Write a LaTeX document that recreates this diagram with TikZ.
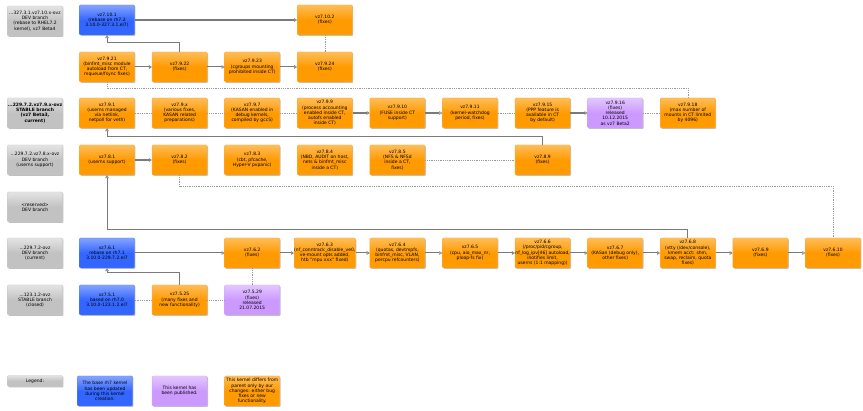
\documentclass[tikz,border=0pt]{standalone}
\usepackage{fontspec}
\setmainfont{DejaVu Sans}
\usetikzlibrary{arrows.meta,shadows}
\definecolor{cOr}{HTML}{FF9A00}
\definecolor{cBl}{HTML}{3366FF}
\definecolor{cPu}{HTML}{CC99FF}
\definecolor{cGr}{HTML}{C2C2C2}
\definecolor{cLn}{HTML}{7A7A7A}
\definecolor{cDt}{HTML}{9A9A9A}
\tikzset{
  kbox/.style={rectangle, rounded corners=1pt, minimum width=55pt, minimum height=30pt,
    inner sep=0pt, align=center, font=\fontsize{4.5}{5.2}\selectfont, text=black,
    line width=0.4pt,
    drop shadow={shadow xshift=0.9pt, shadow yshift=-0.9pt, opacity=0.25, fill=black}},
  orbox/.style={kbox, top color=cOr!65!white, bottom color=cOr, middle color=cOr, draw=cOr!80!white},
  blbox/.style={kbox, top color=cBl!60!white, bottom color=cBl, middle color=cBl, draw=cBl!80!white},
  pubox/.style={kbox, top color=cPu!55!white, bottom color=cPu, middle color=cPu, draw=cPu!85!white},
  lbbox/.style={kbox, top color=cGr!45!white, bottom color=cGr, middle color=cGr, draw=cGr!85!white},
  conn/.style={draw=cLn, line width=1pt, -{Triangle[open,length=3pt,width=3.6pt,line width=0.6pt]}},
  tconn/.style={conn, line width=1.7pt},
  dconn/.style={draw=cDt, line width=0.6pt, dash pattern=on 0.6pt off 1.2pt},
}
\begin{document}
\begin{tikzpicture}[x=1pt,y=-1pt]
\fill[white] (0,0) rectangle (863,411);
\useasboundingbox (0,0) rectangle (863,411);

% ---- branch labels
\node[lbbox] (L1) at (35,21) {...327.3.1.vz7.10.x-ovz\\DEV branch\\(rebase to RHEL7.2\\kernel), vz7 Beta4};
\node[lbbox, font=\fontsize{4.5}{5.2}\selectfont\bfseries] (L3) at (35,113) {...229.7.2.vz7.9.x-ovz\\STABLE branch\\(vz7 Beta3,\\current)};
\node[lbbox] (L4) at (35,160) {...229.7.2.vz7.8.x-ovz\\DEV branch\\(userns support)};
\node[lbbox] (L5) at (35,207) {<reserved>\\DEV branch};
\node[lbbox] (L6) at (35,253) {...229.7.2-ovz\\DEV branch\\(current)};
\node[lbbox] (L7) at (35,300) {...123.1.2-ovz\\STABLE branch\\(closed)};

% ---- row 1
\node[blbox] (a1) at (107,20) {vz7.10.1\\(rebase on rh7.2\\3.10.0-327.3.1.el7)};
\node[orbox] (a2) at (324.8,20) {vz7.10.2\\(fixes)};

% ---- row 2
\node[orbox] (b21) at (107,67) {vz7.9.21\\(binfmt\_misc module\\autoload from CT,\\mqueue/fsync fixes)};
\node[orbox] (b22) at (179.6,67) {vz7.9.22\\(fixes)};
\node[orbox] (b23) at (252.2,67) {vz7.9.23\\(cgroups mounting\\prohibited inside CT)};
\node[orbox] (b24) at (324.8,67) {vz7.9.24\\(fixes)};

% ---- row 3
\node[orbox] (c1) at (107,113) {vz7.9.1\\(userns managed\\via netlink,\\netpoll for veth)};
\node[orbox] (cx) at (179.6,113) {vz7.9.x\\(various fixes,\\KASAN related\\preparations)};
\node[orbox] (c7) at (252.2,113) {vz7.9.7\\(KASAN enabled in\\debug kernels,\\compiled by gcc5)};
\node[orbox] (c9) at (324.8,113) {vz7.9.9\\(process accounting\\enabled inside CT,\\autofs enabled\\inside CT)};
\node[orbox] (c10) at (397.4,113) {vz7.9.10\\(FUSE inside CT\\support)};
\node[orbox] (c11) at (470,113) {vz7.9.11\\(kernel-watchdog\\period, fixes)};
\node[orbox] (c15) at (542.6,113) {vz7.9.15\\(PPP feature is\\available in CT\\by default)};
\node[pubox] (c16) at (615.2,113) {vz7.9.16\\(fixes)\\released\\10.12.2015\\as vz7 Beta2};
\node[orbox] (c18) at (687.8,113) {vz7.9.18\\(max number of\\mounts in CT limited\\by 4096)};

% ---- row 4
\node[orbox] (d1) at (107,160) {vz7.8.1\\(userns support)};
\node[orbox] (d2) at (179.6,160) {vz7.8.2\\(fixes)};
\node[orbox] (d3) at (252.2,160) {vz7.8.3\\(cbt, pfcache,\\Hyper-V pvpanic)};
\node[orbox] (d4) at (324.8,160) {vz7.8.4\\(NBD, AUDIT on host,\\nets \& binfmt\_misc\\inside a CT)};
\node[orbox] (d5) at (397.4,160) {vz7.8.5\\(NFS \& NFSd\\inside a CT,\\fixes)};
\node[orbox] (d9) at (542.6,160) {vz7.8.9\\(fixes)};

% ---- row 6
\node[blbox] (f1) at (107,253) {vz7.6.1\\rebase on rh7.1\\3.10.0-229.7.2.el7};
\node[orbox] (f2) at (252.2,253) {vz7.6.2\\(fixes)};
\node[orbox] (f3) at (324.8,253) {vz7.6.3\\(nf\_conntrack\_disable\_ve0,\\ve-mount opts added,\\htb "mpu xxx" fixed)};
\node[orbox] (f4) at (397.4,253) {vz7.6.4\\(quotas, devtmpfs,\\binfmt\_misc, VLAN,\\percpu refcounters)};
\node[orbox] (f5) at (470,253) {vz7.6.5\\(cpu, aio\_max\_nr,\\ploop-fs fix)};
\node[orbox] (f6) at (542.6,253) {vz7.6.6\\(/proc/pid/cgroup,\\nf\_log\_ipv[46] autoload,\\inotifies limit,\\userns (1:1 mapping))};
\node[orbox] (f7) at (615.2,253) {vz7.6.7\\(KASan (debug only),\\other fixes)};
\node[orbox] (f8) at (687.8,253) {vz7.6.8\\(vtty (/dev/console),\\kmem acct: shm,\\swap, reclaim, quota\\fixes)};
\node[orbox] (f9) at (760.4,253) {vz7.6.9\\(fixes)};
\node[orbox] (f10) at (833,253) {vz7.6.10\\(fixes)};

% ---- row 7
\node[blbox] (g1) at (107,300) {vz7.5.1\\based on rh7.0\\3.10.0-123.1.2.el7};
\node[orbox] (g25) at (179.6,300) {vz7.5.25\\(many fixes and\\new functionality)};
\node[pubox] (g29) at (252.2,300) {vz7.5.29\\(fixes)\\released\\21.07.2015};

% ---- legend
\node[lbbox, minimum height=11pt] (Lg) at (35,381) {Legend:};
\node[blbox] (lb) at (105,391) {The base rh7 kernel\\has been updated\\during this kernel\\creation.};
\node[pubox] (lp) at (179.6,391) {This kernel has\\been published.};
\node[orbox] (lo) at (252.2,391) {This kernel differs from\\parent only by our\\changes: either bug\\fixes or new\\functionality.};

% ---- elbow points
\coordinate (e1) at (107,43);
\coordinate (e2) at (107,137);
\coordinate (e3) at (107,230);
\coordinate (e4) at (107,273);
\coordinate (p1) at (107,88);
\coordinate (p2) at (179.6,186);

% ---- dotted relations
\draw[dconn] (a2) -- (b24);
\draw[dconn] (b21.south) -- (p1) -| (c18.north);
\draw[dconn] (c1) -- (cx);
\draw[dconn] (cx) -- (c7);
\draw[dconn] (c7) -- (c9);
\draw[dconn] (c11) -- (c15);
\draw[dconn] (c16) -- (c18);
\draw[dconn] (d5) -- (d9);
\draw[dconn] (d2.south) -- (p2) -| (f10.north);
\draw[dconn] (f2) -- (g29);
\draw[dconn] (g1) -- (g25);
\draw[dconn] (g25) -- (g29);

% ---- solid connectors
\draw[tconn] (a1) -- (a2);
\draw[conn] (b22.north) |- (e1) -- (a1.south);
\draw[conn] (b21) -- (b22);
\draw[conn] (b22) -- (b23);
\draw[conn] (b23) -- (b24);
\draw[tconn] (c9) -- (c10);
\draw[tconn] (c10) -- (c11);
\draw[tconn] (c15) -- (c16);
\draw[conn] (d9.north) |- (e2) -- (c1.south);
\draw[tconn] (d1) -- (d2);
\draw[conn] (f8.north) |- (e3) -- (d1.south);
\draw[conn] (g25.north) |- (e4) -- (f1.south);
\draw[conn] (f1) -- (f2);
\draw[conn] (f2) -- (f3);
\draw[conn] (f3) -- (f4);
\draw[conn] (f4) -- (f5);
\draw[conn] (f5) -- (f6);
\draw[conn] (f6) -- (f7);
\draw[conn] (f7) -- (f8);
\draw[conn] (f8) -- (f9);
\draw[conn] (f9) -- (f10);
\end{tikzpicture}
\end{document}
